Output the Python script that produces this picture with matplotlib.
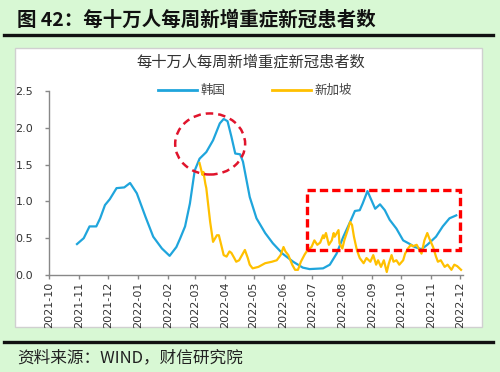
import matplotlib
matplotlib.use("Agg")
import matplotlib.pyplot as plt
import matplotlib.dates as mdates
from matplotlib.patches import Ellipse, Rectangle
from matplotlib.lines import Line2D
import pandas as pd

plt.rcParams['font.family'] = ['Noto Sans CJK SC', 'DejaVu Sans']

fig_title = "图 42：每十万人每周新增重症新冠患者数"
chart_title = "每十万人每周新增重症新冠患者数"
source_text = "资料来源：WIND，财信研究院"
series_names = ["韩国", "新加坡"]

korea_dates = [
    "2021-10-30", "2021-11-06", "2021-11-12", "2021-11-19", "2021-11-23", "2021-11-28",
    "2021-12-03", "2021-12-10", "2021-12-18", "2021-12-24", "2021-12-31", "2022-01-09",
    "2022-01-17", "2022-01-26", "2022-02-03", "2022-02-10", "2022-02-14", "2022-02-19",
    "2022-02-24", "2022-03-01", "2022-03-06", "2022-03-13", "2022-03-20", "2022-03-27",
    "2022-03-31", "2022-04-04", "2022-04-08", "2022-04-12", "2022-04-17", "2022-04-20",
    "2022-04-27", "2022-05-04", "2022-05-13", "2022-05-21", "2022-05-31", "2022-06-11",
    "2022-06-21", "2022-06-28", "2022-07-12", "2022-07-19", "2022-07-26", "2022-08-02",
    "2022-08-09", "2022-08-14", "2022-08-19", "2022-08-22", "2022-08-27", "2022-08-31",
    "2022-09-04", "2022-09-09", "2022-09-14", "2022-09-19", "2022-09-26", "2022-10-03",
    "2022-10-10", "2022-10-15", "2022-10-22", "2022-10-28", "2022-11-06", "2022-11-13",
    "2022-11-20", "2022-11-27",
]
korea_values = [
    0.42, 0.50, 0.66, 0.66, 0.77, 0.95,
    1.03, 1.18, 1.19, 1.25, 1.11, 0.79,
    0.52, 0.36, 0.26, 0.38, 0.50, 0.66,
    0.97, 1.42, 1.58, 1.67, 1.83, 2.06,
    2.12, 2.09, 1.88, 1.65, 1.64, 1.54,
    1.06, 0.77, 0.57, 0.43, 0.29, 0.18,
    0.10, 0.08, 0.09, 0.14, 0.29, 0.52,
    0.72, 0.87, 0.88, 0.97, 1.14, 1.02,
    0.90, 0.96, 0.88, 0.75, 0.63, 0.47,
    0.42, 0.38, 0.35, 0.41, 0.52, 0.66,
    0.77, 0.81,
]

singapore_dates = [
    "2022-03-06", "2022-03-09", "2022-03-10", "2022-03-12", "2022-03-13", "2022-03-15",
    "2022-03-17", "2022-03-20", "2022-03-24", "2022-03-26", "2022-03-29", "2022-03-31",
    "2022-04-03", "2022-04-06", "2022-04-08", "2022-04-11", "2022-04-13", "2022-04-16",
    "2022-04-19", "2022-04-22", "2022-04-25", "2022-04-27", "2022-04-30", "2022-05-06",
    "2022-05-13", "2022-05-20", "2022-05-25", "2022-05-29", "2022-06-01", "2022-06-03",
    "2022-06-06", "2022-06-10", "2022-06-13", "2022-06-16", "2022-06-19", "2022-06-23",
    "2022-06-26", "2022-06-30", "2022-07-03", "2022-07-06", "2022-07-09", "2022-07-12",
    "2022-07-13", "2022-07-15", "2022-07-18", "2022-07-21", "2022-07-23", "2022-07-24",
    "2022-07-28", "2022-07-29", "2022-08-01", "2022-08-03", "2022-08-07", "2022-08-09",
    "2022-08-11", "2022-08-13", "2022-08-16", "2022-08-19", "2022-08-23", "2022-08-26",
    "2022-08-30", "2022-09-02", "2022-09-05", "2022-09-07", "2022-09-10", "2022-09-13",
    "2022-09-16", "2022-09-18", "2022-09-21", "2022-09-23", "2022-09-26", "2022-09-29",
    "2022-10-03", "2022-10-05", "2022-10-08", "2022-10-11", "2022-10-13", "2022-10-17",
    "2022-10-20", "2022-10-22", "2022-10-25", "2022-10-28", "2022-10-30", "2022-11-03",
    "2022-11-06", "2022-11-08", "2022-11-11", "2022-11-15", "2022-11-18", "2022-11-22",
    "2022-11-25", "2022-11-28", "2022-12-02",
]
singapore_values = [
    1.52, 1.36, 1.40, 1.24, 1.18, 0.95,
    0.72, 0.45, 0.54, 0.54, 0.38, 0.27,
    0.25, 0.32, 0.30, 0.23, 0.18, 0.20,
    0.27, 0.34, 0.23, 0.14, 0.09, 0.11,
    0.16, 0.18, 0.20, 0.27, 0.38, 0.32,
    0.27, 0.14, 0.07, 0.07, 0.18, 0.28,
    0.34, 0.38, 0.47, 0.41, 0.44, 0.54,
    0.50, 0.57, 0.41, 0.47, 0.57, 0.52,
    0.61, 0.43, 0.36, 0.47, 0.63, 0.72,
    0.68, 0.52, 0.34, 0.23, 0.16, 0.23,
    0.18, 0.27, 0.14, 0.20, 0.11, 0.20,
    0.04, 0.15, 0.27, 0.18, 0.20, 0.14,
    0.20, 0.29, 0.36, 0.41, 0.39, 0.41,
    0.34, 0.29, 0.47, 0.57, 0.50, 0.38,
    0.25, 0.18, 0.20, 0.11, 0.14, 0.07,
    0.14, 0.12, 0.07,
]

month_ticks = pd.date_range("2021-10-01", "2022-12-01", freq="MS")
y_ticks = [0.0, 0.5, 1.0, 1.5, 2.0, 2.5]

BLUE = "#1fa5dc"
YELLOW = "#ffc000"
BG = "#d8f8d4"

fig = plt.figure(figsize=(5.0, 3.72), dpi=100)
fig.patch.set_facecolor(BG)

# white panel
fig.patches.append(Rectangle((0.030, 0.121), 0.934, 0.750, transform=fig.transFigure,
                             facecolor="white", edgecolor="#d0d0d0", linewidth=1.0, zorder=-10))
# black rules
fig.lines.append(Line2D([0.008, 0.986], [0.907, 0.907], transform=fig.transFigure,
                        color="#111111", linewidth=2.4, zorder=-5))
fig.lines.append(Line2D([0.008, 0.986], [0.081, 0.081], transform=fig.transFigure,
                        color="#111111", linewidth=2.4, zorder=-5))

fig.text(0.034, 0.946, fig_title, fontsize=14, fontweight="bold", color="#111111",
         ha="left", va="center")
fig.text(0.502, 0.833, chart_title, fontsize=11, color="#333333", ha="center", va="center")
fig.text(0.034, 0.038, source_text, fontsize=12, color="#222222", ha="left", va="center",
         style="italic")

ax = fig.add_axes([0.098, 0.2608, 0.828, 0.4946])
ax.set_facecolor("none")

kd = pd.to_datetime(korea_dates)
sd = pd.to_datetime(singapore_dates)
l1, = ax.plot(kd, korea_values, color=BLUE, linewidth=1.6, solid_joinstyle="round", zorder=3)
l2, = ax.plot(sd, singapore_values, color=YELLOW, linewidth=1.6, solid_joinstyle="round", zorder=3)

ax.set_xlim(pd.Timestamp("2021-10-01"), pd.Timestamp("2022-12-04"))
ax.set_ylim(0, 2.5)
ax.set_xticks(month_ticks)
ax.xaxis.set_major_formatter(mdates.DateFormatter("%Y-%m"))
ax.set_yticks(y_ticks)
ax.set_yticklabels([f"{v:.1f}" for v in y_ticks])

for lbl in ax.get_xticklabels():
    lbl.set_rotation(90)
ax.tick_params(axis="x", length=3, width=1, color="#888888", labelsize=8,
               labelcolor="#333333", pad=2)
ax.tick_params(axis="y", length=3, width=1, color="#888888", labelsize=8,
               labelcolor="#333333", pad=8.5)
for lbl in ax.get_xticklabels() + ax.get_yticklabels():
    lbl.set_family("DejaVu Sans")

for s in ["top", "right"]:
    ax.spines[s].set_visible(False)
for s in ["left", "bottom"]:
    ax.spines[s].set_color("#888888")
    ax.spines[s].set_linewidth(1.0)

# annotations
ell = Ellipse((mdates.date2num(pd.Timestamp("2022-03-17")), 1.78),
              width=72.5, height=0.83, fill=False, edgecolor="#e0142c",
              linestyle=(0, (3, 2)), linewidth=1.8, zorder=4)
ax.add_patch(ell)
x0 = mdates.date2num(pd.Timestamp("2022-06-25"))
x1 = mdates.date2num(pd.Timestamp("2022-12-01"))
rect = Rectangle((x0, 0.34), x1 - x0, 0.815, fill=False, edgecolor="#ff0000",
                 linestyle=(0, (2.5, 1.2)), linewidth=2.4, zorder=4)
ax.add_patch(rect)

leg = fig.legend([l1, l2], series_names, loc="center", bbox_to_anchor=(0.51, 0.756),
                 ncol=2, frameon=False, fontsize=9, handlelength=3.1,
                 handletextpad=0.3, columnspacing=3.7)
for t in leg.get_texts():
    t.set_color("#444444")
for h in leg.get_lines():
    h.set_linewidth(2.0)

fig.savefig("out.png", dpi=100, facecolor=BG)
